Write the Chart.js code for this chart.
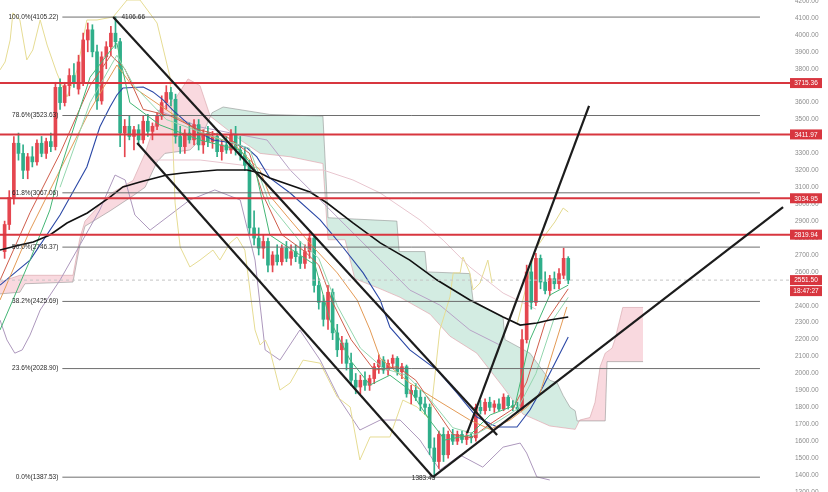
<!DOCTYPE html>
<html>
<head>
<meta charset="utf-8">
<script src="https://cdn.jsdelivr.net/npm/chart.js@4.4.0/dist/chart.umd.min.js"></script>
<style>
html, body { margin: 0; padding: 0; background: #fff; }
canvas { display: block; }
</style>
</head>
<body>
<canvas id="myChart" width="828" height="492"></canvas>
<script>
// candles, one per bar (index = bar number)
var opens  = [2720,2880,3040,3360,3300,3200,3280,3250,3360,3300,3370,3340,3690,3600,3700,3760,3680,3720,3970,4030,
              3900,3610,3870,3930,4010,3960,3420,3460,3400,3440,3380,3490,3430,3460,3520,3600,3660,3620,3400,3340,
              3420,3380,3470,3350,3420,3370,3400,3310,3350,3320,3410,3320,3290,3230,2860,2800,2740,2780,2640,2700,
              2660,2740,2680,2720,2690,2650,2720,2800,2520,2420,2320,2480,2240,2140,2180,2060,1960,1920,1960,1930,
              1970,2040,2080,2020,2060,2090,2010,2040,1880,1900,1860,1820,1800,1560,1480,1640,1520,1640,1600,1640,
              1610,1630,1620,1800,1780,1830,1800,1820,1790,1860,1810,1800,1790,2200,2600,2420,2680,2540,2490,2560,
              2530,2580,2680];
var highs  = [2900,3080,3400,3420,3350,3300,3340,3380,3400,3390,3420,3720,3740,3720,3800,3830,3880,4010,4070,4060,
              3940,3900,3960,4050,4107,3980,3500,3520,3460,3470,3520,3530,3480,3540,3640,3700,3690,3650,3460,3440,
              3480,3500,3500,3440,3460,3430,3420,3380,3400,3440,3460,3400,3330,3260,2960,2860,2820,2800,2720,2760,
              2760,2780,2760,2760,2780,2760,2830,2810,2560,2460,2520,2500,2290,2220,2200,2120,2000,1990,2010,1990,
              2060,2110,2100,2080,2110,2100,2060,2050,1930,1940,1900,1860,1820,1620,1660,1680,1660,1670,1660,1660,
              1660,1650,1820,1840,1850,1860,1840,1850,1880,1870,1840,1830,2260,2640,2660,2710,2700,2600,2580,2600,
              2620,2740,2690];
var lows   = [2680,2850,3000,3260,3150,3150,3220,3230,3280,3270,3310,3320,3560,3580,3640,3690,3650,3700,3900,3870,
              3560,3590,3800,3880,3920,3340,3280,3380,3320,3350,3360,3400,3380,3440,3500,3560,3580,3360,3300,3300,
              3360,3350,3320,3300,3340,3330,3280,3260,3300,3300,3290,3260,3200,2820,2760,2700,2680,2600,2600,2640,
              2640,2660,2640,2660,2620,2620,2680,2480,2380,2280,2260,2200,2100,2060,2020,1930,1880,1880,1900,1900,
              1940,2000,2000,1990,2030,1990,1970,1860,1820,1840,1780,1760,1520,1383,1440,1480,1500,1580,1580,1590,
              1580,1590,1600,1760,1760,1780,1770,1780,1780,1790,1780,1770,1780,2180,2380,2400,2500,2470,2460,2500,
              2500,2560,2530];
var closes = [2880,3040,3360,3300,3200,3280,3250,3360,3300,3370,3340,3690,3600,3700,3760,3720,3840,3970,4030,3900,
              3610,3870,3930,4010,3960,3420,3460,3400,3440,3380,3490,3430,3460,3520,3600,3660,3620,3400,3340,3420,
              3380,3470,3350,3420,3370,3400,3310,3350,3320,3410,3320,3290,3230,2860,2800,2740,2780,2640,2700,2660,
              2740,2680,2720,2690,2650,2720,2800,2520,2420,2320,2480,2240,2140,2180,2060,1960,1920,1960,1930,1970,
              2040,2080,2020,2060,2090,2010,2040,1880,1900,1860,1820,1800,1560,1480,1640,1520,1640,1600,1640,1610,
              1630,1620,1800,1780,1830,1800,1820,1790,1860,1810,1800,1790,2200,2600,2420,2680,2540,2490,2560,2530,
              2590,2680,2551.5];

// price axis labels
var yTicks = [1300,1400,1500,1600,1700,1800,1900,2000,2100,2200,2300,2400,2500,2600,2700,2800,2900,3000,
              3100,3200,3300,3400,3500,3600,3700,3800,3900,4000,4100,4200];

// fibonacci retracement
var fibNames  = ['100.0%', '78.6%', '61.8%', '50.0%', '38.2%', '23.6%', '0.0%'];
var fibLevels = [4105.22, 3523.63, 3067.06, 2746.37, 2425.69, 2028.90, 1387.53];
var fibFrom = 12.5, fibTo = 163.5;

// horizontal resistance lines
var redLevels = [3715.36, 3411.97, 3034.95, 2819.94];
var lastPrice = 2551.50;
var lastTime = '18:47:27';

var highMark = [24, 4106.66];
var lowMark  = [93, 1383.45];

var trendLines = [
  [[23.5, 4106], [106.6, 1636]],
  [[28.7, 3361], [92.7, 1388]],
  [[92.7, 1388], [168.5, 2983]],
  [[100.1, 1648], [126.5, 3580]]
];

// indicator lines [bar, price]
var maBlack = [[-1,2729],[3.3,2759],[6.2,2777],[9.8,2818],[13.5,2889],[17.9,2948],[22.8,3042],[25.6,3102],[29.3,3131],
  [35.1,3172],[38.6,3184],[46,3202],[52.5,3202],[55.3,3184],[57.4,3155],[66.1,3072],[69.8,3007],[75.4,2889],[81.3,2771],
  [87.7,2670],[93.6,2552],[100.7,2434],[107.9,2334],[111.6,2286],[115.2,2298],[118,2316],[122,2334]];
var maBlue = [[-1,2522],[5.5,2670],[12,2936],[17.8,3220],[20.6,3456],[22.8,3574],[24.3,3645],[25.6,3686],[30,3692],
  [32.1,3663],[34.3,3616],[36.4,3556],[39.5,3480],[42.3,3421],[45.1,3379],[49.4,3361],[52.5,3332],[54.6,3279],[57.4,3155],
  [61.8,3066],[68.3,2907],[73.2,2747],[77.6,2594],[81.3,2434],[83.4,2274],[87.7,2139],[93.6,2020],[97.9,1885],[102.2,1743],
  [106.6,1684],[110.9,1684],[113.7,1784],[116.5,1920],[122,2215]];
var maOrange = [[-1,2434],[5.5,2847],[12,3202],[18.5,3556],[24.3,3822],[27.8,3692],[35.1,3556],[42.3,3421],[49.4,3361],
  [55.3,3200],[57.4,3050],[61.8,2907],[66.8,2747],[72,2594],[76.3,2434],[79.1,2257],[81.3,2090],[87.7,1944],[93.6,1843],
  [100.7,1725],[105.1,1670],[109.4,1725],[113.1,1802],[115.9,1885],[121.7,2393]];
var maBrown = [[-1,2550],[5.5,2950],[12,3300],[18.5,3700],[23,3880],[26,3800],[30,3560],[36,3520],[42,3440],[48,3400],
  [53,3300],[56,3050],[60,2820],[65,2720],[68,2640],[71,2420],[75,2200],[80,2020],[85,2040],[89,1960],[93,1800],[97,1640],
  [101,1620],[105,1700],[110,1790],[113,1950],[117,2300],[122,2500]];
var maGreen = [[-1,2257],[5.5,2670],[9.8,2966],[12,3202],[18.5,3750],[23,3911],[24.3,3950],[27.1,3600],[33.6,3468],
  [42.3,3379],[51,3320],[54.3,3202],[57.4,2818],[63.9,2700],[67.2,2641],[70.4,2316],[74.8,2079],[79.1,1932],[83.4,1990],
  [87.7,1902],[92,1725],[95.3,1607],[100.7,1636],[105.1,1755],[110.5,1813],[113.7,2198],[118,2463],[122,2522]];
var maTeal = [[12,3100],[18.5,3600],[24.3,3880],[28,3700],[35,3500],[45,3400],[53,3330],[57.4,3000],[63.9,2780],[68,2680],
  [72,2400],[77,2150],[82,2030],[87,1990],[92,1850],[97,1680],[102,1640],[107,1720],[111,1790],[115,2000],[119,2330],[122,2450]];
var lagLine = [[-1,3793],[0.1,3840],[1.2,3970],[1.8,4130],[3.3,4088],[4.8,3852],[6.1,3911],[7.7,4088],[9.2,3940],
  [11.3,3775],[13.5,3633],[15.7,3793],[17.8,4088],[20,4088],[23.5,4106],[26.5,4206],[29.3,4206],[33,4070],[35.8,3751],
  [36.4,3379],[36.9,3007],[38,2747],[40.1,2629],[42.3,2670],[45.1,2729],[46.6,2670],[48.8,2771],[50.3,2806],[52,2729],
  [53.1,2493],[54.2,2257],[55.3,2168],[56.4,2198],[57.4,2139],[59.6,1902],[61.8,1944],[64.6,2079],[68.3,2061],[72,1861],
  [74.8,1802],[76.9,1489],[79.1,1625],[83.4,1625],[86.2,1843],[89.3,1802],[92.1,1725],[94.2,2257],[96.4,2452],[97.1,2594],
  [98.6,2594],[99.2,2688],[100.7,2594],[101.4,2493],[102.9,2534],[104.6,2670],[105.5,2534]];
var bandTop = [[33,3556],[42.3,3456],[56.8,3379],[61.8,3202],[68.3,3025],[73.7,2877],[81.3,2670],[87.7,2493],[94.2,2404],
  [100.7,2257],[107.2,2168]];
var bandTopEnd = [[111,2300],[114.8,2729],[117,2818],[119.1,2895],[120.9,2977],[122,2954]];
var bandLow = [[-1,2316],[0.5,2198],[2.2,2120],[3.8,2139],[5.5,2227],[7.7,2375],[12,2552],[16.3,2759],[20.6,2966],
  [23.9,3172],[26.1,3143],[28.2,2936],[31.5,2847],[35.8,2936],[40.1,3025],[45.5,3084],[51,3025],[54.2,2670],[56.4,2139],
  [59.6,2079],[63.9,2257],[68.3,2079],[72.6,1843],[76.9,1666],[81.3,1725],[85.6,1725],[89.9,1607],[94.2,1430],[98.6,1518],
  [103.5,1447],[107.9,1565],[111.6,1589],[113,1530],[115.2,1389],[118,1371]];
var maSlow = [[31.5,3261],[42.3,3261],[51,3232],[57.4,3202],[68.9,3202],[75.4,3143],[81.3,3066],[89.9,2907],[94.9,2788],
  [100.7,2629],[107.9,2475],[115,2380]];

// ichimoku cloud spans
var spanA = [[-1,2540],[3.3,2580],[14.8,2580],[16.3,2800],[17.4,2900],[22.8,3060],[27.8,3140],[30.4,3300],[33.6,3560],
  [36.9,3620],[39.7,3740],[42.3,3700],[44.5,3520],[47.3,3460],[51,3380],[55.3,3300],[61.8,3280],[68.9,3240],[70,2790],
  [73.7,2790],[75.8,2560],[81.3,2500],[85.6,2450],[92.1,2350],[96.4,2220],[102.2,2120],[107.9,1920],[112.2,1760],
  [118,1690],[123.5,1670],[124.5,1725],[126.7,1740],[127.8,1830],[128.9,2040],[130,2120],[131.5,2150],[132.1,2200],
  [133.8,2390],[138.2,2390]];
var spanB = [[-1,2470],[3.3,2480],[4.4,2530],[14.8,2540],[16.3,2760],[17.4,2870],[22.8,2960],[27.8,3050],[30.4,3100],
  [33,3250],[34.7,3300],[40.1,3320],[42.3,3380],[44.9,3540],[47.3,3574],[57.4,3530],[68.9,3520],[70,2920],[84.9,2900],
  [85.4,2720],[91,2720],[91.4,2600],[100.7,2590],[101.4,2430],[107.9,2330],[108.3,2200],[113.7,2120],[118,1960],
  [119.6,1945],[120.9,1870],[122.4,1800],[123.5,1780],[123.9,1720],[130,1720],[130.4,2070],[138.2,2070]];

var upColor = '#e5464f';
var downColor = '#2fae8a';

function pts(arr) {
  return arr.map(function (p) { return { x: p[0], y: p[1] }; });
}
function lineSet(arr, color, width, order, extra) {
  var d = { type: 'line', data: pts(arr), borderColor: color, borderWidth: width, pointRadius: 0, fill: false, order: order };
  if (extra) for (var k in extra) d[k] = extra[k];
  return d;
}

var candleColors = closes.map(function (c, i) { return c >= opens[i] ? upColor : downColor; });
var bodies = closes.map(function (c, i) { return { x: i, y: [opens[i], c] }; });
var wicks = closes.map(function (c, i) { return { x: i, y: [lows[i], highs[i]] }; });

var datasets = [];
datasets.push(lineSet(spanA, 'rgba(215,150,160,0.7)', 0.8, 9));
datasets.push(lineSet(spanB, 'rgba(140,140,140,0.7)', 0.8, 9, {
  fill: { target: 0, above: 'rgba(140,205,180,0.38)', below: 'rgba(240,165,178,0.42)' }
}));
datasets.push(lineSet(maSlow, '#e8c6cf', 1, 8));
datasets.push(lineSet(lagLine, '#e6dc93', 1, 8));
datasets.push(lineSet(bandTop, '#b7a3c6', 1, 8));
datasets.push(lineSet(bandTopEnd, '#e3d98e', 1, 8));
datasets.push(lineSet(bandLow, '#ad98bd', 1, 8));
datasets.push({ type: 'bar', data: wicks, backgroundColor: candleColors, barThickness: 1, grouped: false, order: 7 });
datasets.push({ type: 'bar', data: bodies, backgroundColor: candleColors, barThickness: 3, grouped: false, order: 6 });
datasets.push(lineSet(maTeal, '#93d6ae', 1, 5));
datasets.push(lineSet(maGreen, '#44b675', 1, 5));
datasets.push(lineSet(maBrown, '#cf5d4b', 1, 5));
datasets.push(lineSet(maOrange, '#e39a55', 1, 5));
datasets.push(lineSet(maBlue, '#2b48a6', 1.1, 5));
datasets.push(lineSet(maBlack, '#111111', 1.6, 4));
datasets.push(lineSet([[-1, lastPrice], [170, lastPrice]], '#c4c4c4', 1, 3, { borderDash: [3, 3] }));
fibLevels.forEach(function (v) {
  datasets.push(lineSet([[fibFrom, v], [fibTo, v]], '#6e6e6e', 1, 2));
});
redLevels.forEach(function (v) {
  datasets.push(lineSet([[-1, v], [170, v]], '#d8363f', 2, 1));
});
trendLines.forEach(function (t) {
  datasets.push(lineSet(t, '#1c1c1c', 2.2, 0));
});

var labelFont = '6.5px "Liberation Sans", Arial, sans-serif';

var overlay = {
  id: 'overlay',
  afterDraw: function (chart) {
    var ctx = chart.ctx, xs = chart.scales.x, ys = chart.scales.y;
    var right = chart.chartArea.right;
    ctx.save();
    ctx.font = labelFont;
    ctx.textBaseline = 'middle';
    ctx.fillStyle = '#2a2a2a';
    ctx.textAlign = 'right';
    fibLevels.forEach(function (v, k) {
      ctx.fillText(fibNames[k] + '(' + v.toFixed(2) + ')', xs.getPixelForValue(fibFrom) - 4, ys.getPixelForValue(v));
    });
    ctx.textAlign = 'left';
    ctx.fillText(highMark[1].toFixed(2), xs.getPixelForValue(highMark[0]) + 6, ys.getPixelForValue(highMark[1]));
    ctx.textAlign = 'right';
    ctx.fillText(lowMark[1].toFixed(2), xs.getPixelForValue(lowMark[0]) + 1, ys.getPixelForValue(lowMark[1]));

    function box(y, txt) {
      ctx.fillStyle = '#d8363f';
      ctx.fillRect(right, y - 5, 32, 10);
      ctx.fillStyle = '#fff';
      ctx.textAlign = 'center';
      ctx.fillText(txt, right + 16, y + 0.5);
    }
    redLevels.forEach(function (v) { box(ys.getPixelForValue(v), v.toFixed(2)); });
    var py = ys.getPixelForValue(lastPrice);
    box(py, lastPrice.toFixed(2));
    box(py + 11, lastTime);
    ctx.restore();
  }
};

var ctx = document.getElementById('myChart').getContext('2d');
var myChart = new Chart(ctx, {
  type: 'bar',
  data: { datasets: datasets },
  options: {
    responsive: false,
    animation: false,
    layout: { padding: 0 },
    plugins: { legend: { display: false }, tooltip: { enabled: false } },
    scales: {
      x: { type: 'linear', min: -1, max: 170, offset: false, display: false },
      y: {
        position: 'right',
        min: 1300,
        max: 4206,
        grid: { display: false, drawTicks: false },
        border: { display: false },
        ticks: {
          padding: 5,
          color: '#8c8c8c',
          font: { size: 6.5, family: '"Liberation Sans", Arial, sans-serif' },
          callback: function (v) { return v.toFixed(2); }
        },
        afterBuildTicks: function (scale) {
          scale.ticks = yTicks.map(function (v) { return { value: v }; });
        },
        afterFit: function (scale) {
          scale.width = 38;
          scale.paddingTop = 0;
          scale.paddingBottom = 0;
        }
      }
    }
  },
  plugins: [overlay]
});
</script>
</body>
</html>
